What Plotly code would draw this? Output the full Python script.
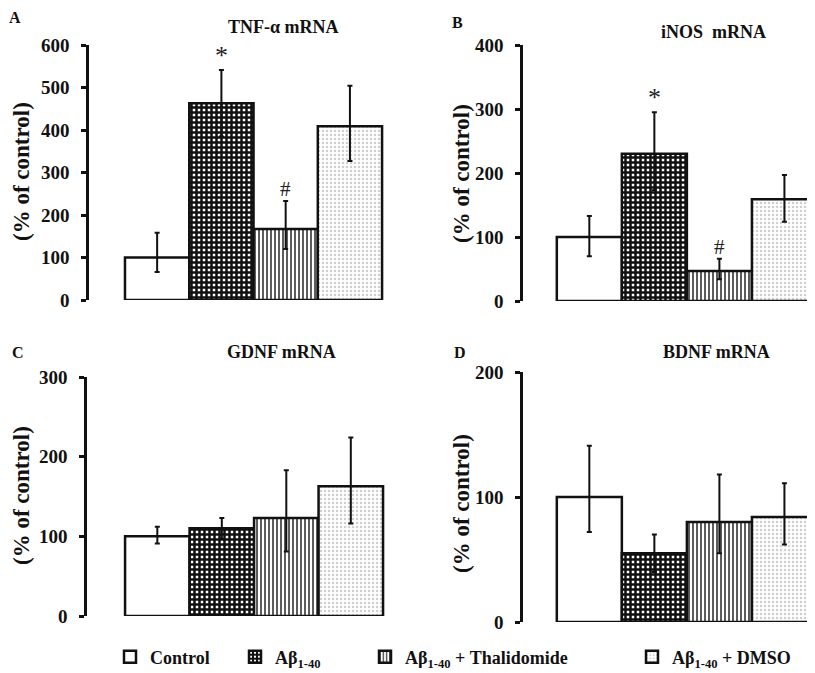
import plotly.graph_objects as go

# ---------------- data ----------------
groups = ["Control", "Aβ<sub>1-40</sub>", "Aβ<sub>1-40</sub> + Thalidomide", "Aβ<sub>1-40</sub> + DMSO"]

tnf_mean = [100, 463, 167, 409]
tnf_up = [58, 78, 66, 95]
tnf_down = [34, 78, 47, 82]
tnf_sig = ["", "*", "#", ""]

inos_mean = [100, 230, 47, 159]
inos_up = [33, 65, 19, 38]
inos_down = [30, 57, 13, 35]
inos_sig = ["", "*", "#", ""]

gdnf_mean = [100, 110, 123, 163]
gdnf_up = [12, 13, 60, 61]
gdnf_down = [9, 13, 42, 47]

bdnf_mean = [100, 55, 80, 84]
bdnf_up = [41, 15, 38, 27]
bdnf_down = [28, 15, 25, 22]

panel_letters = ["A", "B", "C", "D"]
panel_titles = ["TNF-α mRNA", "iNOS  mRNA", "GDNF mRNA", "BDNF mRNA"]
y_ticks = [[0, 100, 200, 300, 400, 500, 600], [0, 100, 200, 300, 400], [0, 100, 200, 300], [0, 100, 200]]
y_title = "(% of control)"

# ---------------- styles ----------------
W, H = 815, 673
OFF = 8  # page body margin
SERIF = "Liberation Serif"
INK = "#111"

patterns = [
    dict(shape="", bgcolor="white"),
    dict(shape="+", fgcolor="#111", bgcolor="white", size=5, solidity=0.75, fillmode="replace"),
    dict(shape="|", fgcolor="#333", bgcolor="white", size=4, solidity=0.4, fillmode="replace"),
    dict(shape=".", fgcolor="#cfcfcf", bgcolor="white", size=4, solidity=0.3, fillmode="replace"),
]

def px_x(p):
    return (p - OFF) / W

def px_y(p):
    return 1 - (p - OFF) / H

panels = [
    dict(mean=tnf_mean, up=tnf_up, down=tnf_down, sig=tnf_sig, ax=89, right=384, y0=300, ytop=45, ymax=600, xr=[-1.06, 3.53]),
    dict(mean=inos_mean, up=inos_up, down=inos_down, sig=inos_sig, ax=523, right=815, y0=301, ytop=45, ymax=400, xr=[-1.02, 3.47]),
    dict(mean=gdnf_mean, up=gdnf_up, down=gdnf_down, sig=None, ax=87, right=385, y0=616, ytop=377, ymax=300, xr=[-1.09, 3.53]),
    dict(mean=bdnf_mean, up=bdnf_up, down=bdnf_down, sig=None, ax=523, right=815, y0=622, ytop=372, ymax=200, xr=[-1.02, 3.47]),
]

fig = go.Figure()
layout = dict(
    width=W, height=H, margin=dict(l=0, r=0, t=0, b=0, autoexpand=False),
    paper_bgcolor="white", plot_bgcolor="rgba(0,0,0,0)",
    barmode="overlay", showlegend=True,
    font=dict(family=SERIF, color=INK),
)
annotations = []

legend_text_x = [150, 275, 405, 672]
for gi in range(4):
    key = "legend" if gi == 0 else f"legend{gi+1}"
    layout[key] = dict(
        x=px_x(legend_text_x[gi] - 40), y=px_y(657), xanchor="left", yanchor="middle",
        orientation="h", bgcolor="rgba(0,0,0,0)",
        font=dict(family=SERIF, size=18, color=INK, weight="bold"),
        itemwidth=30,
    )

for pi, p in enumerate(panels):
    xa = "x" if pi == 0 else f"x{pi+1}"
    ya = "y" if pi == 0 else f"y{pi+1}"
    xkey = "xaxis" if pi == 0 else f"xaxis{pi+1}"
    ykey = "yaxis" if pi == 0 else f"yaxis{pi+1}"
    for gi in range(4):
        fig.add_trace(go.Bar(
            x=[gi], y=[p["mean"][gi]], width=1.0,
            xaxis=xa, yaxis=ya,
            name=groups[gi],
            showlegend=(pi == 0),
            legend=("legend" if gi == 0 else f"legend{gi+1}"),
            marker=dict(color="white", line=dict(color=INK, width=2.5), pattern=patterns[gi]),
            error_y=dict(type="data", symmetric=False, array=[p["up"][gi]], arrayminus=[p["down"][gi]],
                         color=INK, thickness=2, width=2.5),
        ))
        if p["sig"] and p["sig"][gi]:
            annotations.append(dict(
                x=gi, y=p["mean"][gi] + p["up"][gi], xref=xa, yref=ya,
                text=p["sig"][gi], showarrow=False, yanchor="bottom", yshift=-2,
                font=dict(family=SERIF, size=26 if p["sig"][gi] == "*" else 21, color="#222"),
            ))
    layout[xkey] = dict(
        domain=[px_x(p["ax"]), px_x(p["right"])], range=p["xr"], anchor=ya,
        showline=False, showticklabels=False, ticks="", showgrid=False, zeroline=False,
        automargin=False, fixedrange=True,
    )
    layout[ykey] = dict(
        domain=[px_y(p["y0"]), px_y(p["ytop"])], range=[0, p["ymax"]], anchor=xa,
        showline=True, linecolor=INK, linewidth=2.5, ticks="outside", ticklen=5, tickwidth=2.5,
        tickcolor=INK, tickvals=y_ticks[pi], showgrid=False, zeroline=False, automargin=False,
        ticklabelstandoff=8,
        tickfont=dict(family=SERIF, size=19, color=INK, weight="bold"),
    )

letter_pos = [(15, 18), (457, 22), (18, 352), (460, 352)]
title_pos = [(283, 27), (713, 32), (281, 352), (716, 352)]
ytitle_pos = [(21, 172), (461, 174), (21, 496), (461, 504)]
for pi in range(4):
    lx, ly = letter_pos[pi]
    annotations.append(dict(x=px_x(lx), y=px_y(ly), xref="paper", yref="paper", text=panel_letters[pi],
                            showarrow=False, xanchor="center", yanchor="middle",
                            font=dict(family=SERIF, size=16, color=INK, weight="bold")))
    tx, ty = title_pos[pi]
    annotations.append(dict(x=px_x(tx), y=px_y(ty), xref="paper", yref="paper", text=panel_titles[pi],
                            showarrow=False, xanchor="center", yanchor="middle",
                            font=dict(family=SERIF, size=18, color=INK, weight="bold")))
    yx, yy = ytitle_pos[pi]
    annotations.append(dict(x=px_x(yx), y=px_y(yy), xref="paper", yref="paper", text=y_title,
                            showarrow=False, xanchor="center", yanchor="middle", textangle=-90,
                            font=dict(family=SERIF, size=23, color=INK, weight="bold")))

layout["annotations"] = annotations
fig.update_layout(**layout)
fig.write_html("out.html")
